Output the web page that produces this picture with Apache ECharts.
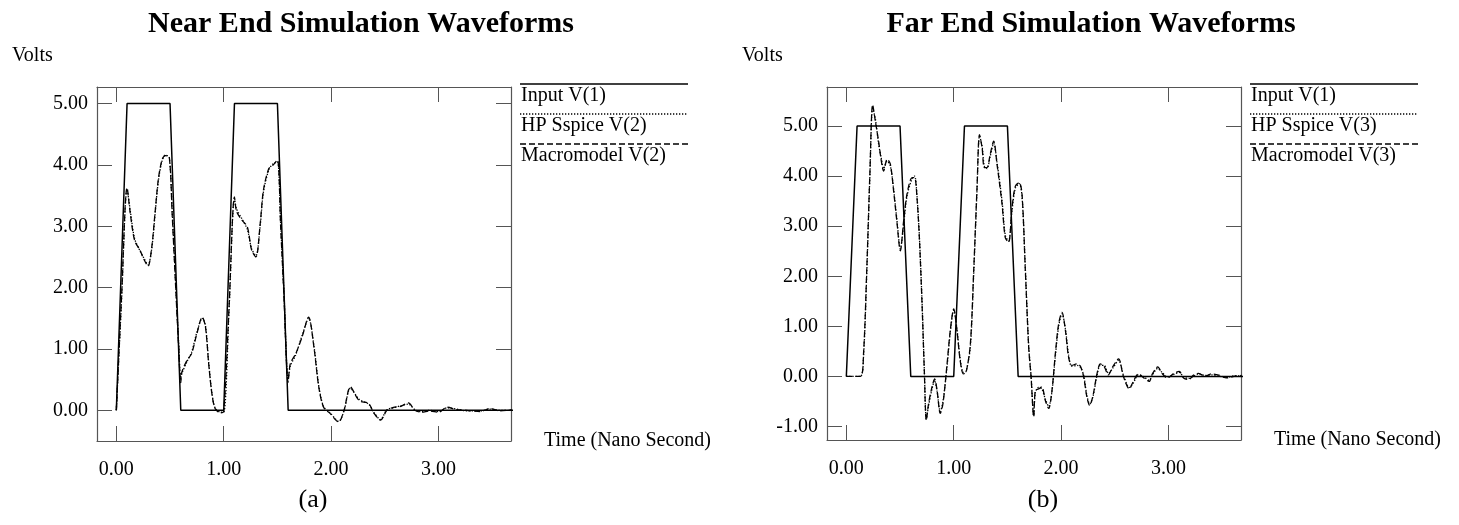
<!DOCTYPE html>
<html>
<head>
<meta charset="utf-8">
<script src="https://cdn.jsdelivr.net/npm/echarts@6/dist/echarts.min.js"></script>
<style>html,body{margin:0;padding:0;background:#fff;}#c{width:1459px;height:525px;}</style>
</head>
<body>
<div id="c"></div>
<script>
// ---- data ----
const xTicks = [0, 1, 2, 3];
const nearYTicks = [0, 1, 2, 3, 4, 5];
const farYTicks = [-1, 0, 1, 2, 3, 4, 5];

const inputT = [0, 0.1, 0.5, 0.6, 1.0, 1.1, 1.5, 1.6, 3.7];
const inputV = [0, 5, 5, 0, 0, 5, 5, 0, 0];

const nearT = [0, 0.05, 0.1, 0.13, 0.17, 0.22, 0.26, 0.295, 0.33, 0.36, 0.39, 0.425, 0.456, 0.493, 0.52, 0.55, 0.58, 0.6, 0.61, 0.66, 0.7, 0.75, 0.8, 0.83, 0.86, 0.89, 0.92, 0.97, 1.0, 1.05, 1.1, 1.12, 1.17, 1.22, 1.26, 1.3, 1.34, 1.37, 1.42, 1.46, 1.5, 1.53, 1.56, 1.6, 1.62, 1.67, 1.73, 1.79, 1.84, 1.885, 1.93, 1.99, 2.07, 2.12, 2.18, 2.26, 2.35, 2.4, 2.46, 2.52, 2.58, 2.64, 2.72, 2.78, 2.84, 2.92, 3.0, 3.08, 3.17, 3.26, 3.39, 3.48, 3.57, 3.68];
const nearMacro = [0, 1.9, 3.63, 3.21, 2.77, 2.61, 2.45, 2.35, 2.66, 3.21, 3.75, 4.08, 4.15, 4.13, 3.2, 2.1, 1.05, 0.45, 0.62, 0.82, 0.92, 1.25, 1.52, 1.36, 0.76, 0.27, 0.03, -0.04, -0.02, 1.7, 3.48, 3.24, 3.10, 2.99, 2.61, 2.50, 3.05, 3.59, 3.94, 4.0, 4.08, 3.0, 1.9, 0.46, 0.76, 0.92, 1.2, 1.52, 1.03, 0.38, 0.05, -0.05, -0.19, 0.0, 0.38, 0.16, 0.11, -0.05, -0.16, 0.0, 0.05, 0.06, 0.12, 0.0, -0.03, -0.01, -0.03, 0.05, 0.01, 0.0, -0.02, 0.03, -0.01, 0.01];
const nearHP = [0, 1.85, 3.6, 3.25, 2.8, 2.6, 2.47, 2.37, 2.64, 3.18, 3.72, 4.06, 4.16, 4.12, 3.25, 2.15, 1.1, 0.5, 0.6, 0.8, 0.94, 1.27, 1.5, 1.38, 0.78, 0.28, 0.04, -0.03, -0.03, 1.65, 3.45, 3.28, 3.12, 2.95, 2.63, 2.52, 3.02, 3.56, 3.92, 4.02, 4.05, 3.05, 1.95, 0.5, 0.72, 0.9, 1.22, 1.5, 1.05, 0.4, 0.06, -0.04, -0.18, -0.01, 0.36, 0.18, 0.1, -0.04, -0.15, 0.01, 0.04, 0.07, 0.1, 0.01, -0.02, 0.0, -0.02, 0.04, 0.02, -0.01, -0.01, 0.02, 0.0, 0.0];

const farT = [0, 0.13, 0.16, 0.19, 0.22, 0.245, 0.27, 0.3, 0.326, 0.347, 0.38, 0.41, 0.44, 0.47, 0.503, 0.534, 0.565, 0.612, 0.636, 0.658, 0.68, 0.705, 0.726, 0.745, 0.766, 0.798, 0.822, 0.845, 0.875, 0.9, 0.938, 0.968, 1.0, 1.03, 1.06, 1.09, 1.115, 1.155, 1.186, 1.217, 1.24, 1.264, 1.285, 1.31, 1.34, 1.372, 1.403, 1.45, 1.48, 1.511, 1.543, 1.574, 1.61, 1.636, 1.667, 1.698, 1.72, 1.745, 1.76, 1.79, 1.82, 1.853, 1.884, 1.915, 1.946, 1.977, 2.008, 2.04, 2.07, 2.1, 2.148, 2.18, 2.21, 2.24, 2.266, 2.297, 2.334, 2.365, 2.4, 2.44, 2.48, 2.535, 2.58, 2.635, 2.67, 2.72, 2.77, 2.82, 2.85, 2.9, 2.94, 2.99, 3.05, 3.1, 3.14, 3.19, 3.23, 3.28, 3.34, 3.4, 3.48, 3.54, 3.61, 3.68];
const farMacro = [0, 0, 0.45, 2.11, 4.10, 5.43, 5.10, 4.70, 4.30, 4.10, 4.34, 4.24, 3.71, 3.11, 2.51, 3.11, 3.64, 3.97, 3.97, 3.57, 2.77, 1.45, 0.12, -0.88, -0.54, -0.21, -0.05, -0.28, -0.74, -0.54, 0.25, 0.92, 1.35, 0.92, 0.32, 0.05, 0.08, 0.65, 2.11, 3.77, 4.83, 4.57, 4.17, 4.17, 4.44, 4.70, 4.24, 3.44, 2.77, 2.68, 3.37, 3.80, 3.87, 3.64, 2.11, 0.58, -0.01, -0.81, -0.28, -0.25, -0.21, -0.48, -0.64, -0.28, 0.45, 1.05, 1.28, 0.92, 0.38, 0.22, 0.25, 0.2, -0.01, -0.41, -0.58, -0.38, 0.05, 0.25, 0.2, 0.03, 0.19, 0.35, 0, -0.25, -0.11, 0.05, -0.03, -0.1, 0.05, 0.19, 0.06, -0.03, 0.06, 0.1, -0.03, -0.06, 0.02, 0.06, 0, 0.05, 0.02, -0.03, 0, 0.02];
const farHP = [0, 0, 0.4, 2.05, 4.05, 5.35, 5.15, 4.65, 4.35, 4.15, 4.3, 4.2, 3.75, 3.15, 2.55, 3.05, 3.6, 3.95, 4.0, 3.6, 2.8, 1.5, 0.15, -0.85, -0.58, -0.25, -0.08, -0.3, -0.7, -0.5, 0.2, 0.88, 1.32, 0.95, 0.35, 0.08, 0.1, 0.6, 2.05, 3.72, 4.8, 4.6, 4.2, 4.15, 4.4, 4.65, 4.28, 3.5, 2.82, 2.7, 3.32, 3.76, 3.85, 3.6, 2.15, 0.62, 0.02, -0.78, -0.32, -0.22, -0.25, -0.45, -0.6, -0.3, 0.4, 1.0, 1.25, 0.95, 0.42, 0.2, 0.22, 0.18, 0.02, -0.38, -0.55, -0.4, 0.02, 0.22, 0.22, 0.06, 0.16, 0.32, 0.03, -0.22, -0.14, 0.03, -0.01, -0.08, 0.03, 0.16, 0.08, -0.01, 0.04, 0.08, -0.01, -0.04, 0.0, 0.05, 0.02, 0.03, 0.0, -0.02, 0.01, 0.01];

const panels = [
  { title: 'Near End Simulation Waveforms', tag: '(a)', hpName: 'HP Sspice V(2)', macroName: 'Macromodel V(2)', yMin: -0.5, yMax: 5.27, yTicks: nearYTicks, hp: nearHP, macro: nearMacro, t: nearT },
  { title: 'Far End Simulation Waveforms', tag: '(b)', hpName: 'HP Sspice V(3)', macroName: 'Macromodel V(3)', yMin: -1.27, yMax: 5.78, yTicks: farYTicks, hp: farHP, macro: farMacro, t: farT }
];

// ---- layout ----
const FONT = '"Liberation Serif", "Times New Roman", serif';
const AX = '#555';
const gridsPos = [{ left: 97, top: 87, width: 414, height: 354 }, { left: 827, top: 87, width: 414, height: 353 }];
const zip = (a, b) => a.map((v, i) => [v, b[i]]);
const fmt = v => v.toFixed(2);

const grid = [], xAxis = [], yAxis = [], series = [], graphic = [];
panels.forEach((p, i) => {
  const g = gridsPos[i];
  grid.push({ left: g.left, top: g.top, width: g.width, height: g.height });
  const tickStyle = { show: true, inside: true, length: 15, lineStyle: { color: AX, width: 1 } };
  xAxis.push({
    type: 'value', gridIndex: i, min: -0.18, max: 3.675, position: 'bottom',
    axisLine: { show: true, onZero: false, lineStyle: { color: AX, width: 1.2 } },
    axisTick: Object.assign({ customValues: xTicks }, tickStyle),
    axisLabel: { customValues: xTicks, formatter: fmt, margin: 19, fontSize: 20, fontFamily: FONT, color: '#000' },
    splitLine: { show: false },
    name: 'Time (Nano Second)', nameLocation: 'end', nameGap: 33,
    nameTextStyle: { fontSize: 20, fontFamily: FONT, color: '#000', verticalAlign: 'middle' }
  });
  xAxis.push({
    type: 'value', gridIndex: i, min: -0.18, max: 3.675, position: 'top',
    axisLine: { show: true, onZero: false, lineStyle: { color: AX, width: 1.2 } },
    axisTick: Object.assign({ customValues: xTicks }, tickStyle),
    axisLabel: { show: false }, splitLine: { show: false }
  });
  yAxis.push({
    type: 'value', gridIndex: i, min: p.yMin, max: p.yMax, position: 'left',
    axisLine: { show: true, onZero: false, lineStyle: { color: AX, width: 1.2 } },
    axisTick: Object.assign({ customValues: p.yTicks }, tickStyle),
    axisLabel: { customValues: p.yTicks, formatter: fmt, margin: 9, fontSize: 20, fontFamily: FONT, color: '#000' },
    splitLine: { show: false }
  });
  yAxis.push({
    type: 'value', gridIndex: i, min: p.yMin, max: p.yMax, position: 'right',
    axisLine: { show: true, onZero: false, lineStyle: { color: AX, width: 1.2 } },
    axisTick: Object.assign({ customValues: p.yTicks }, tickStyle),
    axisLabel: { show: false }, splitLine: { show: false }
  });
  const xi = i * 2, yi = i * 2;
  series.push({ name: 'Input V(1)', type: 'line', xAxisIndex: xi, yAxisIndex: yi, data: zip(inputT, inputV), showSymbol: false, lineStyle: { color: '#000', width: 1.5, type: 'solid' }, z: 3 });
  series.push({ name: p.hpName, type: 'line', xAxisIndex: xi, yAxisIndex: yi, data: zip(p.t, p.hp), showSymbol: false, smooth: 0.3, lineStyle: { color: '#000', width: 1.3, type: [1.3, 1.7] }, z: 2 });
  series.push({ name: p.macroName, type: 'line', xAxisIndex: xi, yAxisIndex: yi, data: zip(p.t, p.macro), showSymbol: false, smooth: 0.3, lineStyle: { color: '#000', width: 1.3, type: [6, 3] }, z: 2 });

  // titles and annotations
  graphic.push({ type: 'text', x: g.left + 264, y: 24, style: { text: p.title, font: 'bold 30px ' + FONT, fill: '#000', align: 'center', textAlign: 'center', verticalAlign: 'middle', textVerticalAlign: 'middle' } });
  graphic.push({ type: 'text', x: g.left - 85, y: 56, style: { text: 'Volts', font: '20px ' + FONT, fill: '#000', align: 'left', textAlign: 'left', verticalAlign: 'middle', textVerticalAlign: 'middle' } });
  graphic.push({ type: 'text', x: g.left + 216, y: 500, style: { text: p.tag, font: '26px ' + FONT, fill: '#000', align: 'center', textAlign: 'center', verticalAlign: 'middle', textVerticalAlign: 'middle' } });
  // legend
  const lx = g.left + g.width + 9, lw = 168;
  const items = [['Input V(1)', null], [p.hpName, [1.3, 1.7]], [p.macroName, [6, 3]]];
  items.forEach((it, k) => {
    const ly = 84 + k * 30;
    graphic.push({ type: 'line', shape: { x1: lx, y1: ly, x2: lx + lw, y2: ly }, style: { stroke: '#000', lineWidth: 1.3, lineDash: it[1] } });
    graphic.push({ type: 'text', x: lx + 1, y: ly + 12, style: { text: it[0], font: '20px ' + FONT, fill: '#000', align: 'left', textAlign: 'left', verticalAlign: 'middle', textVerticalAlign: 'middle' } });
  });
});

const chart = echarts.init(document.getElementById('c'), null, { renderer: 'canvas' });
chart.setOption({
  backgroundColor: '#fff',
  animation: false,
  grid, xAxis, yAxis, series, graphic
});
</script>
</body>
</html>
